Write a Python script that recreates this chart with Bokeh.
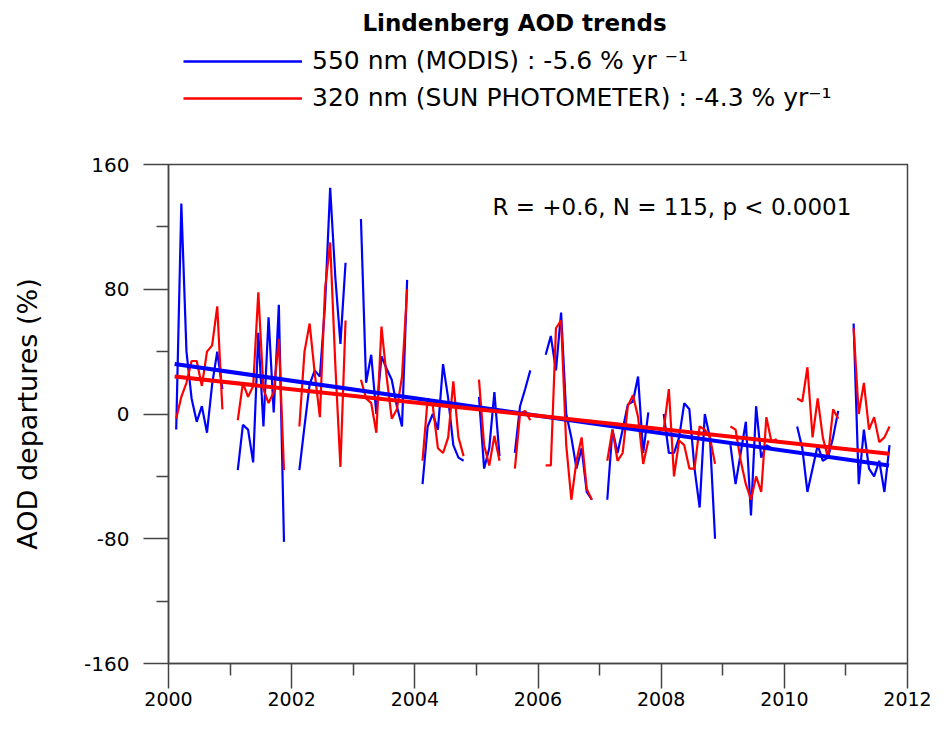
import numpy as np
from bokeh.plotting import figure
from bokeh.layouts import column
from bokeh.models import Legend, LegendItem, Label, FixedTicker, Range1d, ColumnDataSource
from bokeh.embed import file_html
from bokeh.resources import INLINE

nan = float("nan")

# monthly index from Jan 2000 (0) to Sep 2011 (140)
month_index = list(range(141))

# 550 nm MODIS AOD departures (%)
modis_550 = [
    nan, -10, 135, 40, 10, -5, 5, -12, 19, 40, 16, nan,
    nan, -36, -7, -10, -31, 52, -8, 62, 1, 70, -82, nan,
    nan, -36, -8, 19, 28, 24, 70, 145, 88, 45, 97, nan,
    nan, 125, 20, 38, 0, 37, 29, 22, 5, -8, 86, nan,
    nan, -45, -8, 0, -10, 32, 10, -20, -28, -30, nan, nan,
    11, -35, -22, 14, -27, nan, nan, -25, 5, 16, 28, nan,
    nan, 38, 50, 28, 65, 0, -15, -35, -22, -50, -55, nan,
    nan, -55, -10, -25, -10, 6, 8, 24, -25, 1, nan, nan,
    0, -25, -25, -15, 7, 3, -35, -60, 0, -15, -80, nan,
    nan, -20, -45, -25, -5, -65, 5, -28, -20, -22, nan, nan,
    nan, nan, -8, -22, -50, -35, -20, -30, -28, -15, 2, nan,
    nan, 58, -45, -10, -35, -40, -30, -50, -20,
]

# 320 nm sun photometer AOD departures (%)
sunphot_320 = [
    nan, -3, 11, 20, 34, 34, 18, 40, 44, 69, 3, nan,
    nan, -4, 20, 11, 18, 78, 16, 7, 14, 48, -36, nan,
    nan, -8, 40, 58, 26, -2, 80, 110, 32, -34, 60, nan,
    nan, 22, 10, 7, -12, 56, 24, -3, 3, 24, 80, nan,
    nan, -30, 10, 5, -22, -25, -15, 21, -15, -27, nan, nan,
    22, -20, -33, -14, -30, nan, nan, -35, 0, 2, -4, nan,
    nan, -33, -33, 55, 60, -20, -55, -30, -15, -48, -55, nan,
    nan, -30, -10, -30, -25, 5, 12, -2, -32, -17, nan, nan,
    -10, 16, -40, -17, -20, -35, -35, -8, -10, -15, -32, nan,
    nan, -8, -10, -30, -45, -55, -40, -50, -2, -18, -16, nan,
    nan, nan, 10, 8, 30, -15, 10, -15, -28, 3, -3, nan,
    nan, 55, 0, 20, -10, -2, -18, -15, -8,
]

# linear trends (% departures at start and end of record)
trend_years = [2000.1, 2011.7]
modis_trend = [32, -33]
sunphot_trend = [24, -25.5]

x_major = [2000, 2002, 2004, 2006, 2008, 2010, 2012]
x_minor = [2001, 2003, 2005, 2007, 2009, 2011]
y_major = [-160, -80, 0, 80, 160]
y_minor = [-120, -40, 40, 120]
y_tick_labels = ["-160", "-80", "0", "80", "160"]

title_text = "Lindenberg AOD trends"
legend_labels = ["550 nm (MODIS) : -5.6 % yr \u207b\u00b9",
                 "320 nm (SUN PHOTOMETER) : -4.3 % yr\u207b\u00b9"]
stats_text = "R = +0.6, N = 115, p < 0.0001"

years = 2000 + (np.array(month_index) + 0.5) / 12.0

FONT = "DejaVu Sans"
AXIS_COLOR = "#444444"
BLUE = "#0000ff"
RED = "#ff0000"

W = 932
TOP_H = 140
MAIN_H = 575
FRAME_LEFT = 168   # the header's frame is aligned with the chart's frame

# ---------------- header: title + legend ----------------
top = figure(width=W, height=TOP_H, output_backend="svg", toolbar_location=None,
             x_range=Range1d(0, 1), y_range=Range1d(0, 1),
             x_axis_type=None, y_axis_type=None, min_border=0)
top.outline_line_color = None
top.grid.visible = False
top.background_fill_color = "white"
top.border_fill_color = "white"

# legend sample renderers, kept outside the visible range of the header
lg_blue = top.line(x=[5, 6], y=[5, 6], line_color=BLUE, line_width=2.5)
lg_red = top.line(x=[5, 6], y=[5, 6], line_color=RED, line_width=2.5)

legend = Legend(items=[
    LegendItem(label=legend_labels[0], renderers=[lg_blue]),
    LegendItem(label=legend_labels[1], renderers=[lg_red]),
], location=(183 - FRAME_LEFT, 28), orientation="vertical", glyph_width=119,
    glyph_height=28, label_height=28, spacing=8, padding=0, margin=0,
    label_standoff=10, border_line_alpha=0, background_fill_alpha=0,
    label_text_font=FONT, label_text_font_size="25px", label_text_color="black")
top.add_layout(legend)

title = Label(x=514 - FRAME_LEFT, y=TOP_H - 22, x_units="screen", y_units="screen",
              text=title_text, text_align="center", text_baseline="middle",
              text_font=FONT, text_font_size="23px", text_font_style="bold",
              text_color="black")
top.add_layout(title)

# ---------------- main chart ----------------
src = ColumnDataSource(data=dict(t=years, modis=np.array(modis_550, dtype=float),
                                 sun=np.array(sunphot_320, dtype=float)))
trend_src = ColumnDataSource(data=dict(t=trend_years, modis=modis_trend, sun=sunphot_trend))

p = figure(width=W, height=MAIN_H, output_backend="svg", toolbar_location=None,
           x_range=Range1d(2000, 2012), y_range=Range1d(-160, 160),
           min_border_left=FRAME_LEFT, min_border_right=25, min_border_top=24,
           min_border_bottom=52)
p.background_fill_color = "white"
p.border_fill_color = "white"
p.outline_line_color = AXIS_COLOR
p.outline_line_width = 1.5
p.grid.visible = False

p.line("t", "modis", source=src, line_color=BLUE, line_width=2.2)
p.line("t", "sun", source=src, line_color=RED, line_width=2.2)
p.line("t", "modis", source=trend_src, line_color=BLUE, line_width=4)
p.line("t", "sun", source=trend_src, line_color=RED, line_width=4)

p.xaxis.ticker = FixedTicker(ticks=x_major, minor_ticks=x_minor)
p.yaxis.ticker = FixedTicker(ticks=y_major, minor_ticks=y_minor)
p.yaxis.major_label_overrides = {v: s for v, s in zip(y_major, y_tick_labels)}
p.xaxis.major_label_overrides = {v: str(v) for v in x_major}
for ax in (p.xaxis[0], p.yaxis[0]):
    ax.axis_line_color = AXIS_COLOR
    ax.axis_line_width = 1.5
    ax.major_tick_line_color = AXIS_COLOR
    ax.minor_tick_line_color = AXIS_COLOR
    ax.major_tick_line_width = 1.5
    ax.minor_tick_line_width = 1.5
    ax.major_tick_in = 0
    ax.minor_tick_in = 0
    ax.major_tick_out = 25
    ax.minor_tick_out = 12
    ax.major_label_text_font = FONT
    ax.major_label_text_color = "black"

p.yaxis.major_label_text_font_size = "20px"
p.yaxis.major_label_standoff = 14
p.yaxis.axis_label = "AOD departures (%)"
p.yaxis.axis_label_text_font = FONT
p.yaxis.axis_label_text_font_size = "27px"
p.yaxis.axis_label_text_font_style = "normal"
p.yaxis.axis_label_standoff = 38
p.yaxis.axis_label_text_color = "black"

p.xaxis.major_label_text_font_size = "19px"
p.xaxis.major_label_standoff = 3

stats = Label(x=2005.26, y=133, text=stats_text,
              text_align="left", text_baseline="middle",
              text_font=FONT, text_font_size="23px", text_color="black")
p.add_layout(stats)

layout = column(top, p, spacing=0)
open("out.html", "w").write(file_html(layout, INLINE))
